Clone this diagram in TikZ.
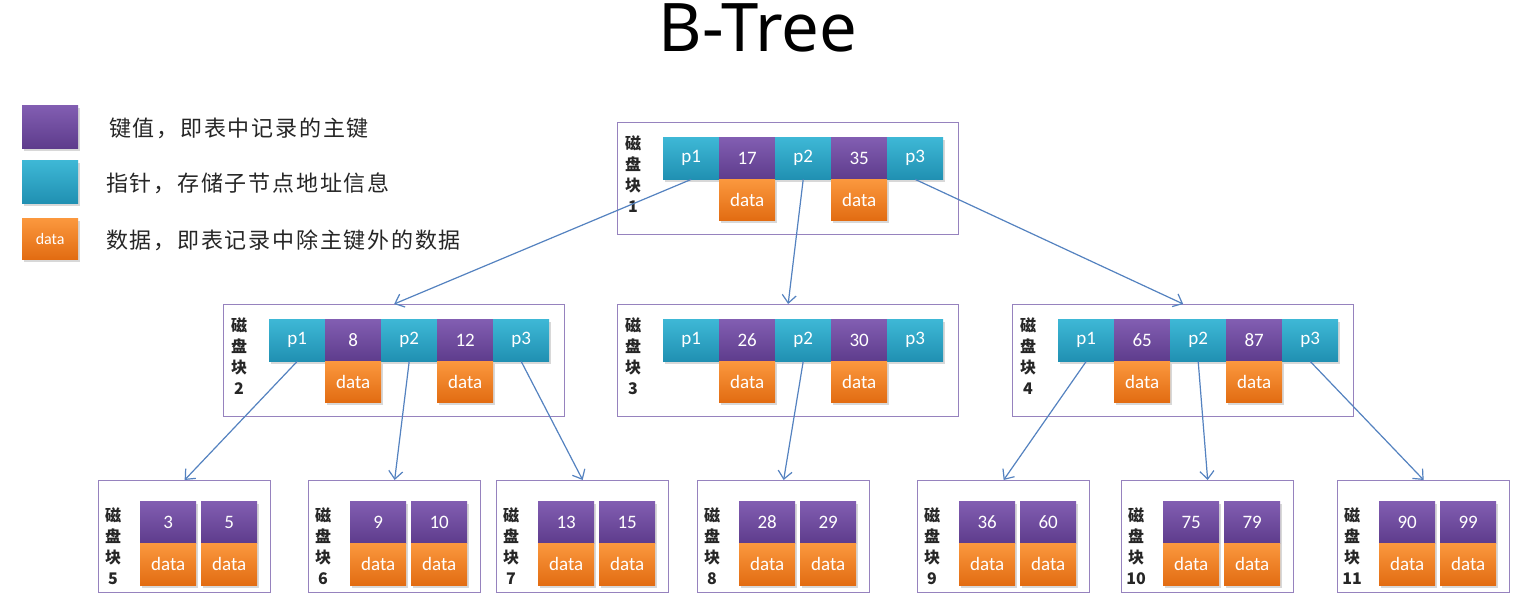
\documentclass[tikz,border=0pt]{standalone}
\usepackage{fontspec}
\setmainfont{Carlito}
\newfontfamily\cjkf{Noto Sans CJK SC}
\newfontfamily\cjklegend[LetterSpace=8]{Noto Sans CJK SC}
\newfontfamily\titlef{Noto Sans}
\usetikzlibrary{arrows.meta,shadows,calc}
\definecolor{keytop}{RGB}{130,94,178}
\definecolor{keybot}{RGB}{94,60,140}
\definecolor{ptrtop}{RGB}{62,184,214}
\definecolor{ptrbot}{RGB}{32,144,178}
\definecolor{dattop}{RGB}{251,152,62}
\definecolor{datbot}{RGB}{226,108,18}
\definecolor{boxc}{RGB}{150,130,190}
\definecolor{arrc}{RGB}{84,130,192}
\tikzset{
  cell/.style={draw=none, minimum width=56pt, inner sep=0pt, anchor=north west,
    text=white, font=\fontsize{19}{19}\selectfont,
    drop shadow={opacity=0.3, shadow xshift=1.5pt, shadow yshift=-2.5pt}},
  keycell/.style={cell, top color=keytop, bottom color=keybot, minimum height=42pt},
  ptrcell/.style={cell, top color=ptrtop, bottom color=ptrbot, minimum height=42pt},
  datcell/.style={cell, top color=dattop, bottom color=datbot, minimum height=41pt},
  diskbox/.style={draw=boxc, line width=1.3pt, anchor=north west, inner sep=0pt},
  disklabel/.style={align=center, inner sep=0pt, font=\cjkf\bfseries\fontsize{16}{21}\selectfont, text=black!85},
  legtext/.style={anchor=west, inner sep=0pt, font=\cjklegend\fontsize{22}{22}\selectfont, text=black!85},
  link/.style={draw=arrc, line width=1.2pt, -{Straight Barb[length=8pt,width=14pt]}}
}
\newcommand\BTinner[6]{%
  \node[diskbox, minimum width=341pt, minimum height=112pt] (#1) at (#2,#3) {};
  \begin{scope}[shift={(#2,#3)}]
    \node[ptrcell] (#1-p1) at (46,15) {p1};
    \node[keycell] (#1-k1) at (102,15) {#4};
    \node[ptrcell] (#1-p2) at (158,15) {p2};
    \node[keycell] (#1-k2) at (214,15) {#5};
    \node[ptrcell] (#1-p3) at (270,15) {p3};
    \node[datcell] (#1-d1) at (102,57) {data};
    \node[datcell] (#1-d2) at (214,57) {data};
    \node[disklabel] (#1-lab) at (16,52) {磁\\盘\\块\\#6};
  \end{scope}}
\newcommand\BTleaf[6]{%
  \node[diskbox, minimum width=172pt, minimum height=112pt] (#1) at (#2,#3) {};
  \begin{scope}[shift={(#2,#3)}]
    \node[keycell] (#1-k1) at (42,21) {#4};
    \node[keycell] (#1-k2) at (103,21) {#5};
    \node[datcell, minimum height=42pt] (#1-d1) at (42,63) {data};
    \node[datcell, minimum height=42pt] (#1-d2) at (103,63) {data};
    \node[disklabel] (#1-lab) at (15,66) {磁\\盘\\块\\#6};
  \end{scope}}
\begin{document}
\begin{tikzpicture}[x=1pt,y=-1pt]
\useasboundingbox[fill=white] (0,0) rectangle (1522,604);
% title
\node[font=\titlef\fontsize{67}{67}\selectfont, text=black, anchor=base, inner sep=0pt] (title) at (758,52) {B-Tree};
% legend
\node[keycell, minimum height=43pt] (lg-k) at (22,105) {};
\node[ptrcell, minimum height=43pt] (lg-p) at (22,160) {};
\node[datcell, font=\fontsize{16}{16}\selectfont] (lg-d) at (22,218) {data};
\node[legtext] (lg-kt) at (109,128) {键值，即表中记录的主键};
\node[legtext] (lg-pt) at (106,183) {指针，存储子节点地址信息};
\node[legtext] (lg-dt) at (106,240) {数据，即表记录中除主键外的数据};
% inner nodes
\BTinner{n1}{617}{122}{17}{35}{1}
\BTinner{n2}{223}{304}{8}{12}{2}
\BTinner{n3}{617}{304}{26}{30}{3}
\BTinner{n4}{1012}{304}{65}{87}{4}
% leaves
\BTleaf{n5}{98}{480}{3}{5}{5}
\BTleaf{n6}{308}{480}{9}{10}{6}
\BTleaf{n7}{496}{480}{13}{15}{7}
\BTleaf{n8}{697}{480}{28}{29}{8}
\BTleaf{n9}{917}{480}{36}{60}{9}
\BTleaf{n10}{1121}{480}{75}{79}{10}
\BTleaf{n11}{1337}{480}{90}{99}{11}
% links
\draw[link] (n1-p1.south) -- (n2.north);
\draw[link] (n1-p2.south) -- (n3.north);
\draw[link] (n1-p3.south) -- (n4.north);
\draw[link] (n2-p1.south) -- (n5.north);
\draw[link] (n2-p2.south) -- (n6.north);
\draw[link] (n2-p3.south) -- (n7.north);
\draw[link] (n3-p2.south) -- (n8.north);
\draw[link] (n4-p1.south) -- (n9.north);
\draw[link] (n4-p2.south) -- (n10.north);
\draw[link] (n4-p3.south) -- (n11.north);
\end{tikzpicture}
\end{document}
